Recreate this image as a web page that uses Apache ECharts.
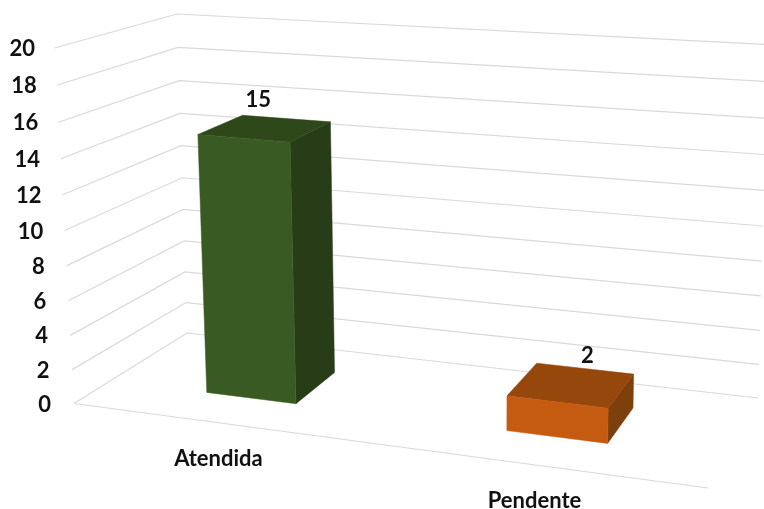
<!DOCTYPE html>
<html>
<head>
<meta charset="utf-8">
<style>html,body{margin:0;padding:0;background:#fff}#c{width:764px;height:509px}</style>
<script src="https://cdn.jsdelivr.net/npm/echarts@6/dist/echarts.min.js"></script>
</head>
<body>
<div id="c"></div>
<script>
var categories = ['Atendida', 'Pendente'];
var values = [15, 2];
var tickValues = [0, 2, 4, 6, 8, 10, 12, 14, 16, 18, 20];
var frontColors = ['#3a5a23', '#c55a11'];
var sideColors = ['#263d17', '#7d3f0c'];
var topColors = ['#2e481a', '#96470c'];

var FONT = 'Lato, "Open Sans", sans-serif';
var FONT_SIZE = 22;
var TEXT = '#111111';
var GRID = '#d9d9d9';

/* Corners of the 3D box on screen: floor (f) and ceiling (c); front/back, left/right. */
var box = {
  fFL: [74, 403.5], fFR: [708, 488], fBL: [187, 333], fBR: [758, 398],
  cFL: [54.5, 48], cFR: [720, 100], cBL: [177, 14], cBR: [768, 44.5]
};
var DEPTH_FRONT = 0.33, DEPTH_BACK = 0.74, BAR_RATIO = 0.31;

function bilerp(a, b, c, d, u, v, i) {
  return a[i] * (1 - u) * (1 - v) + b[i] * u * (1 - v) + c[i] * (1 - u) * v + d[i] * u * v;
}
/* u: along the front edge, v: depth, h: height, all 0..1 */
function project(u, v, h) {
  var out = [];
  for (var i = 0; i < 2; i++) {
    var lo = bilerp(box.fFL, box.fFR, box.fBL, box.fBR, u, v, i);
    var hi = bilerp(box.cFL, box.cFR, box.cBL, box.cBR, u, v, i);
    out.push(lo + (hi - lo) * h);
  }
  return out;
}
function warpU(t) { return t / (t + (1 - t) * 1.13); }
function warpH(w) { return w / (w + (1 - w) * 1.055); }
function heightOf(api, cs, v) {
  return warpH((api.coord([0, 0])[1] - api.coord([0, v])[1]) / cs.height);
}
function poly(points, fill) {
  return { type: 'polygon', shape: { points: points }, style: { fill: fill, stroke: fill, lineWidth: 0.5 }, silent: true };
}
function txt(s, x, y, align) {
  return {
    type: 'text', silent: true,
    style: { text: s, x: x, y: y, fill: TEXT, font: 'bold ' + FONT_SIZE + 'px ' + FONT, textAlign: align || 'center', textVerticalAlign: 'middle' }
  };
}

function renderWall(params, api) {
  var h = heightOf(api, params.coordSys, api.value(0));
  var p = project(0, 0, h);
  var children = [
    {
      type: 'polyline', silent: true,
      shape: { points: [p, project(0, 1, h), project(1, 1, h)] },
      style: { stroke: GRID, lineWidth: 1.2, fill: null }
    },
    txt(String(api.value(0)), p[0] - 23 + 3.5 * h, p[1] + 1, 'right')
  ];
  if (api.value(0) === 0) {
    children.push({
      type: 'line', silent: true,
      shape: { x1: box.fFL[0], y1: box.fFL[1], x2: box.fFR[0], y2: box.fFR[1] },
      style: { stroke: GRID, lineWidth: 1.2 }
    });
  }
  return { type: 'group', children: children };
}

function renderBar(params, api) {
  var cs = params.coordSys, i = api.value(0);
  var cx = api.coord([i, 0])[0];
  var half = api.size([1, 0])[0] * BAR_RATIO / 2;
  var u0 = warpU((cx - half - cs.x) / cs.width), u1 = warpU((cx + half - cs.x) / cs.width);
  var uc = warpU((cx - cs.x) / cs.width);
  var h = heightOf(api, cs, api.value(1));
  var d0 = DEPTH_FRONT, d1 = DEPTH_BACK;
  var top = project((u0 + u1) / 2, (d0 + d1) / 2, h);
  var base = project(uc, 0, 0);
  return {
    type: 'group',
    children: [
      poly([project(u1, d0, 0), project(u1, d1, 0), project(u1, d1, h), project(u1, d0, h)], sideColors[i]),
      poly([project(u0, d0, h), project(u1, d0, h), project(u1, d1, h), project(u0, d1, h)], topColors[i]),
      poly([project(u0, d0, 0), project(u1, d0, 0), project(u1, d0, h), project(u0, d0, h)], frontColors[i]),
      txt(String(api.value(1)), top[0] + 46 * uc - 17.5, top[1] - 29),
      txt(categories[i], base[0], base[1] + 36)
    ]
  };
}

var chart = echarts.init(document.getElementById('c'), null, { renderer: 'canvas' });
chart.setOption({
  animation: false,
  backgroundColor: '#ffffff',
  grid: { left: 74, top: 48, width: 634, height: 355.5 },
  xAxis: { type: 'category', data: categories, show: false },
  yAxis: { type: 'value', min: 0, max: 20, interval: 2, show: false },
  series: [
    { type: 'custom', coordinateSystem: 'cartesian2d', z: 1, renderItem: renderWall, data: tickValues.map(function (v) { return [v]; }), encode: { y: 0 } },
    { type: 'custom', coordinateSystem: 'cartesian2d', z: 2, renderItem: renderBar, data: values.map(function (v, i) { return [i, v]; }), encode: { x: 0, y: 1 } }
  ]
});
</script>
</body>
</html>
